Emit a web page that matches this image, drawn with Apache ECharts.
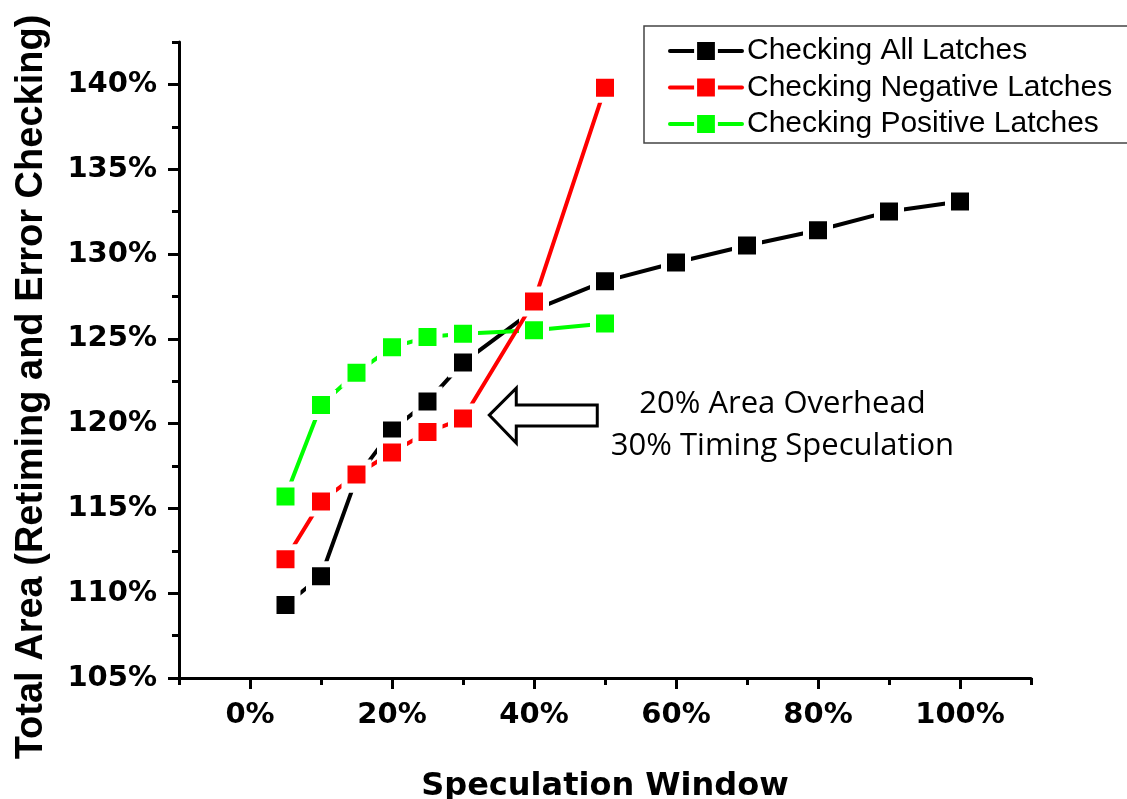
<!DOCTYPE html>
<html>
<head>
<meta charset="utf-8">
<script src="https://cdn.jsdelivr.net/npm/echarts@6/dist/echarts.min.js"></script>
<style>
  html, body { margin: 0; padding: 0; background: #fff; }
  #chart { width: 1127px; height: 799px; }
</style>
</head>
<body>
<div id="chart"></div>
<script>
// Speculation window (%) for each series
const windowAll = [5, 10, 15, 20, 25, 30, 40, 50, 60, 70, 80, 90, 100];
const windowHalf = [5, 10, 15, 20, 25, 30, 40, 50];

// Total area (%) including retiming and error checking
const areaAll = [109.3, 111.0, 116.8, 119.6, 121.3, 123.6, 126.7, 128.4, 129.5, 130.5, 131.4, 132.5, 133.1];
const areaNegative = [112.0, 115.4, 117.0, 118.3, 119.5, 120.3, 127.2, 139.8];
const areaPositive = [115.7, 121.1, 123.0, 124.5, 125.1, 125.3, 125.5, 125.9];

const seriesNames = ['Checking All Latches', 'Checking Negative Latches', 'Checking Positive Latches'];

// Tick values
const xMajorTicks = [0, 20, 40, 60, 80, 100];
const xMinorTicks = [-10, 10, 30, 50, 70, 90, 110];
const yMajorTicks = [105, 110, 115, 120, 125, 130, 135, 140];
const yMinorTicks = [107.5, 112.5, 117.5, 122.5, 127.5, 132.5, 137.5, 142.5];

const noteLines = ['20% Area Overhead', '30% Timing Speculation'];

const pairs = (xs, ys) => xs.map((x, i) => [x, ys[i]]);

const chart = echarts.init(document.getElementById('chart'), null, { renderer: 'canvas' });

const AXIS_W = 3;
const tickFont = { fontFamily: 'DejaVu Sans', fontWeight: 'bold', fontSize: 29, color: '#000' };

function lineSeries(name, color, data, z) {
  return {
    name: name,
    type: 'line',
    data: data,
    z: z,
    symbol: 'rect',
    symbolSize: 24,
    lineStyle: { color: color, width: 4, cap: 'round' },
    itemStyle: { color: color, borderColor: '#fff', borderWidth: 6 },
    emphasis: { disabled: true },
    animation: false
  };
}

const option = {
  backgroundColor: '#fff',
  animation: false,
  grid: { left: 179, right: 96, top: 42, bottom: 121, containLabel: false, outerBoundsMode: 'none' },
  legend: {
    orient: 'vertical',
    left: 663,
    top: 31,
    itemWidth: 72,
    itemHeight: 26,
    itemGap: 6.5,
    data: seriesNames,
    itemStyle: { borderColor: '#fff', borderWidth: 3 },
    lineStyle: { width: 4 },
    textStyle: { fontFamily: 'Liberation Sans', fontSize: 30, color: '#000', lineHeight: 30 },
    selectedMode: false
  },
  xAxis: [
    {
      type: 'value',
      min: -10,
      max: 110,
      position: 'bottom',
      name: 'Speculation Window',
      nameLocation: 'middle',
      nameGap: 93,
      nameTextStyle: { fontFamily: 'DejaVu Sans', fontWeight: 'bold', fontSize: 32, color: '#000' },
      axisLine: { onZero: false, lineStyle: { color: '#000', width: AXIS_W } },
      axisTick: { show: true, inside: false, length: 11, customValues: xMajorTicks, lineStyle: { color: '#000', width: AXIS_W } },
      axisLabel: Object.assign({ margin: 23, customValues: xMajorTicks, formatter: v => v + '%' }, tickFont),
      splitLine: { show: false }
    },
    {
      type: 'value',
      min: -10,
      max: 110,
      position: 'bottom',
      axisLine: { show: false, onZero: false },
      axisTick: { show: true, inside: false, length: 7, customValues: xMinorTicks, lineStyle: { color: '#000', width: AXIS_W } },
      axisLabel: { show: false },
      splitLine: { show: false }
    }
  ],
  yAxis: [
    {
      type: 'value',
      min: 105,
      max: 142.5,
      position: 'left',
      name: 'Total Area (Retiming and Error Checking)',
      nameLocation: 'middle',
      nameGap: 128,
      nameRotate: 90,
      nameTextStyle: { fontFamily: 'Liberation Sans', fontWeight: 'bold', fontSize: 38, color: '#000', padding: [0, 54, 0, 0] },
      axisLine: { onZero: false, lineStyle: { color: '#000', width: AXIS_W } },
      axisTick: { show: true, inside: false, length: 11, customValues: yMajorTicks, lineStyle: { color: '#000', width: AXIS_W } },
      axisLabel: Object.assign({ margin: 22, customValues: yMajorTicks, formatter: v => v + '%' }, tickFont),
      splitLine: { show: false }
    },
    {
      type: 'value',
      min: 105,
      max: 142.5,
      position: 'left',
      axisLine: { show: false, onZero: false },
      axisTick: { show: true, inside: false, length: 7, customValues: yMinorTicks, lineStyle: { color: '#000', width: AXIS_W } },
      axisLabel: { show: false },
      splitLine: { show: false }
    }
  ],
  series: [
    lineSeries(seriesNames[0], '#000000', pairs(windowAll, areaAll), 2),
    lineSeries(seriesNames[2], '#00ff00', pairs(windowHalf, areaPositive), 3),
    lineSeries(seriesNames[1], '#ff0000', pairs(windowHalf, areaNegative), 4)
  ]
};

chart.setOption(option);

// Legend frame, hollow arrow and the note, placed from data coordinates
function drawExtras() {
  const tip = chart.convertToPixel({ gridIndex: 0 }, [33.7, 120.5]);
  const tx = tip[0], ty = tip[1];
  const notePos = chart.convertToPixel({ gridIndex: 0 }, [75, 120.5]);
  chart.setOption({
    graphic: [
      {
        type: 'rect',
        shape: { x: 644, y: 26, width: 500, height: 117 },
        style: { fill: 'none', stroke: '#444', lineWidth: 1.5 },
        z: 0
      },
      {
        type: 'polygon',
        shape: {
          points: [
            [tx, ty],
            [tx + 27, ty - 27],
            [tx + 27, ty - 10],
            [tx + 108, ty - 10],
            [tx + 108, ty + 11],
            [tx + 27, ty + 11],
            [tx + 27, ty + 28]
          ]
        },
        style: { fill: '#fff', stroke: '#000', lineWidth: 3, lineJoin: 'miter' },
        z: 10
      },
      {
        type: 'text',
        x: notePos[0],
        y: notePos[1] + 10,
        style: {
          text: noteLines.join('\n'),
          font: '31px "Open Sans"',
          fill: '#000',
          align: 'center',
          verticalAlign: 'middle',
          lineHeight: 42
        },
        z: 10
      }
    ]
  });
}
drawExtras();
</script>
</body>
</html>
